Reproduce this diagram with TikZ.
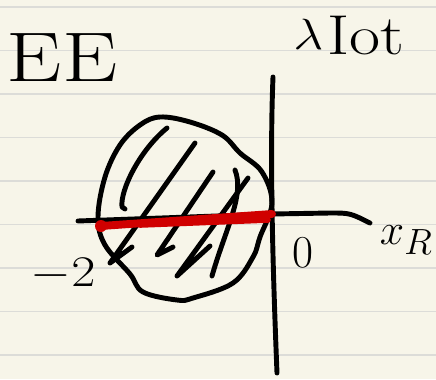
\documentclass[tikz,border=0pt]{standalone}
\usepackage{amsmath}
\usetikzlibrary{calc}

\definecolor{paper}{HTML}{F7F5E9}
\definecolor{rule}{HTML}{DCDCD8}
\definecolor{ink}{HTML}{000000}
\definecolor{marker}{HTML}{D00000}

\begin{document}
\begin{tikzpicture}[
    x=0.02cm, y=-0.02cm,
    pen/.style={draw=ink, line width=2.8pt, line cap=round, line join=round},
    hatch/.style={pen},
    redpen/.style={draw=marker, line width=4.5pt, line cap=round},
    label/.style={inner sep=0pt, font=\fontsize{26}{30}\selectfont},
    big/.style={inner sep=0pt, font=\fontsize{40}{44}\selectfont},
]

% paper
\fill[paper] (0,0) rectangle (436,379);
\useasboundingbox (0,0) rectangle (436,379);
\foreach \y in {7,50.5,94,137.5,181,224.5,268,311.5,355}
    \draw[rule, line width=0.8pt] (0,\y) -- (436,\y);

% axes
\coordinate (ytop) at (273,77);
\coordinate (ybot) at (277,373);
\coordinate (xleft) at (78,221);
\coordinate (xright) at (370,223);
\coordinate (o) at (272,214);
\draw[pen] (ytop) .. controls (270,150) and (272,250) .. (ybot);
\draw[pen] (xleft) -- (o) -- (330,213) .. controls (350,213) .. (xright);

% region
\draw[pen] plot[smooth cycle, tension=0.6] coordinates {
    (160,117) (190,122) (222,135) (240,153) (262,172) (272,203)
    (260,237) (253,257) (233,283) (193,298) (177,300) (143,292)
    (130,274) (105,245) (98,217) (105,177) (120,145) (140,125)};

% hatching
\draw[hatch] (167,128) .. controls (140,150) and (120,190) .. (122,207) -- (125,209);
\draw[hatch] (195,143) -- (110,263) -- (132,247);
\draw[hatch] (213,172) -- (157,255) -- (173,247);
\draw[hatch] (248,178) -- (177,276) -- (210,246);
\draw[hatch] (235,170) .. controls (245,195) and (225,230) .. (212,276);

% red segment
\coordinate (rl) at (101,226);
\draw[redpen] (rl) -- (o);
\draw[redpen, line width=3.2pt] (140,225) -- (268,220);
\fill[marker] (rl) circle (6);

% labels
\node[big, xscale=1.25] (ename) at (62,58) {EE};
\node[big, anchor=west, xscale=1.2] (yname) at (293,36) {$\lambda$\kern2pt\raisebox{-3pt}{\fontsize{32}{34}\selectfont Iot}};
\node[label] (origin) at (303,253) {0};
\node[label, xscale=1.2] (mtwo) at (63,274) {$-2$};
\node[label, anchor=east, font=\fontsize{28}{32}\selectfont] (xname) at (433,240) {$x_R$};

\end{tikzpicture}
\end{document}
